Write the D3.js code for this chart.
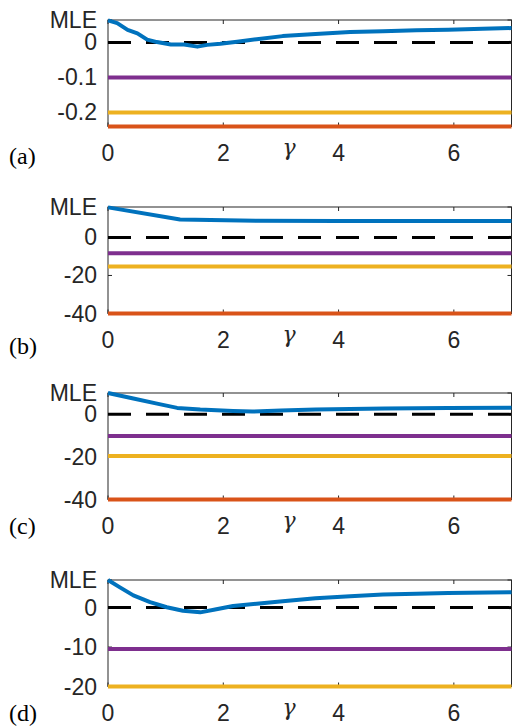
<!DOCTYPE html>
<html>
<head>
<meta charset="utf-8">
<script src="https://cdn.jsdelivr.net/npm/d3@7"></script>
<style>
  body { margin: 0; background: #fff; }
  svg { display: block; }
</style>
</head>
<body>
<svg id="chart"></svg>
<script>
/*
**
** DATA
**
*/
// Panel letters
let panelNames = ["(a)", "(b)", "(c)", "(d)"];

// MLE curve of each panel, gamma and value
let gammaA = [0, 0.16, 0.34, 0.51, 0.68, 0.85, 1.09, 1.32, 1.55, 1.72, 1.95, 2.24, 2.58, 3.03, 3.6, 4.2, 4.77, 5.35, 5.9, 6.5, 7];
let mleA = [0.063, 0.055, 0.036, 0.026, 0.008, 0.001, -0.006, -0.006, -0.012, -0.007, -0.004, 0.002, 0.009, 0.018, 0.024, 0.030, 0.032, 0.035, 0.036, 0.039, 0.041];

let gammaB = [0, 1.25, 2.6, 4, 5.5, 7];
let mleB = [15.8, 9.4, 8.8, 8.6, 8.6, 8.6];

let gammaC = [0, 0.44, 0.85, 1.2, 1.6, 2.17, 2.5, 3, 3.6, 4.8, 5.9, 7];
let mleC = [10, 7.4, 5.0, 3.0, 2.2, 1.6, 1.3, 1.8, 2.2, 2.7, 3.0, 3.1];

let gammaD = [0, 0.2, 0.44, 0.73, 1.02, 1.3, 1.6, 1.88, 2.17, 2.58, 3.03, 3.6, 4.2, 4.77, 5.35, 5.9, 7];
let mleD = [7, 5.2, 3.1, 1.4, 0.1, -0.8, -1.2, -0.4, 0.4, 1.0, 1.6, 2.4, 2.9, 3.3, 3.5, 3.7, 3.9];

// Constant reference levels (purple, yellow, red); null = not shown
let purpleLevels = [-0.1, -8.3, -10.2, -10.5];
let yellowLevels = [-0.2, -15.3, -19.6, -20];
let redLevels = [-0.24, -40, -40, null];

// y ranges and ticks (top tick is labelled MLE)
let yMin = [-0.24, -40, -40, -20];
let yMax = [0.064, 16, 10, 7];
let yTicks = [[-0.2, -0.1, 0], [-40, -20, 0], [-40, -20, 0], [-20, -10, 0]];

// x axis
let xDomain = [0, 7];
let xTicks = [0, 2, 4, 6];
let xLabel = "\u03B3";

/*
**
** LAYOUT
**
*/
let width = 512;
let height = 728;
let left = 108;
let right = 511.5;
let panelTop = [20, 207, 393, 580];
let panelHeight = 106.5;
let letterY = [164, 354, 534, 721];

let colors = {
  blue: "#0072BD",
  red: "#D95319",
  yellow: "#EDB120",
  purple: "#7E2F8E",
  axis: "#262626"
};

let svg = d3.select("#chart").attr("width", width).attr("height", height);

let xScale = d3.scaleLinear().domain(xDomain).range([left, right]);

let curves = [
  { g: gammaA, v: mleA },
  { g: gammaB, v: mleB },
  { g: gammaC, v: mleC },
  { g: gammaD, v: mleD }
];

panelNames.forEach((name, i) => drawPanel(i));

/*
**
** PANELS
**
*/
function drawPanel(i) {
  let top = panelTop[i];
  let bottom = top + panelHeight;
  let yScale = d3.scaleLinear().domain([yMin[i], yMax[i]]).range([bottom, top]);
  let g = svg.append("g");

  // box
  g.append("rect")
      .attr("x", left)
      .attr("y", top)
      .attr("width", right - left)
      .attr("height", panelHeight)
      .attr("fill", "none")
      .attr("stroke", colors.axis)
      .attr("stroke-width", 1);

  // ticks on all four sides, pointing inward
  let tickLen = 4;
  let allY = yTicks[i].concat([yMax[i]]);
  allY.forEach(t => {
    let y = yScale(t);
    g.append("line").attr("x1", left).attr("x2", left + tickLen).attr("y1", y).attr("y2", y)
        .attr("stroke", colors.axis);
    g.append("line").attr("x1", right).attr("x2", right - tickLen).attr("y1", y).attr("y2", y)
        .attr("stroke", colors.axis);
  });
  xTicks.forEach(t => {
    let x = xScale(t);
    g.append("line").attr("x1", x).attr("x2", x).attr("y1", bottom).attr("y2", bottom - tickLen)
        .attr("stroke", colors.axis);
    g.append("line").attr("x1", x).attr("x2", x).attr("y1", top).attr("y2", top + tickLen)
        .attr("stroke", colors.axis);
  });

  // zero line, dashed
  g.append("line")
      .attr("x1", xScale(xDomain[0]))
      .attr("x2", xScale(xDomain[1]))
      .attr("y1", yScale(0))
      .attr("y2", yScale(0))
      .attr("stroke", "#000")
      .attr("stroke-width", 3)
      .attr("stroke-dasharray", "23,15");

  // constant levels
  let levels = [
    { v: purpleLevels[i], c: colors.purple },
    { v: yellowLevels[i], c: colors.yellow },
    { v: redLevels[i], c: colors.red }
  ];
  levels.filter(d => d.v !== null).forEach(d => {
    g.append("line")
        .attr("x1", xScale(xDomain[0]))
        .attr("x2", xScale(xDomain[1]))
        .attr("y1", yScale(d.v))
        .attr("y2", yScale(d.v))
        .attr("stroke", d.c)
        .attr("stroke-width", 4);
  });

  // MLE curve
  let pts = curves[i].g.map((gm, k) => [gm, curves[i].v[k]]);
  let line = d3.line().x(d => xScale(d[0])).y(d => yScale(d[1]));
  g.append("path")
      .datum(pts)
      .attr("d", line)
      .attr("fill", "none")
      .attr("stroke", colors.blue)
      .attr("stroke-width", 4)
      .attr("stroke-linejoin", "round");

  // y tick labels
  let labelFont = "'Liberation Sans', Arial, sans-serif";
  allY.forEach((t, k) => {
    g.append("text")
        .attr("x", 97)
        .attr("y", yScale(t))
        .attr("text-anchor", "end")
        .attr("dominant-baseline", "central")
        .style("font-family", labelFont)
        .style("font-size", "23px")
        .attr("fill", colors.axis)
        .text(k === allY.length - 1 ? "MLE" : String(t));
  });

  // x tick labels
  xTicks.forEach(t => {
    g.append("text")
        .attr("x", xScale(t))
        .attr("y", bottom + 34)
        .attr("text-anchor", "middle")
        .style("font-family", labelFont)
        .style("font-size", "23px")
        .attr("fill", colors.axis)
        .text(String(t));
  });

  // gamma label
  g.append("text")
      .attr("x", 289)
      .attr("y", bottom + 28)
      .attr("text-anchor", "middle")
      .style("font-family", "'DejaVu Serif', serif")
      .style("font-style", "italic")
      .style("font-size", "22px")
      .attr("fill", colors.axis)
      .text(xLabel);

  // panel letter
  g.append("text")
      .attr("x", 9)
      .attr("y", letterY[i])
      .style("font-family", "'Liberation Serif', serif")
      .style("font-size", "24px")
      .attr("fill", "#000")
      .text(panelNames[i]);
}
</script>
</body>
</html>
